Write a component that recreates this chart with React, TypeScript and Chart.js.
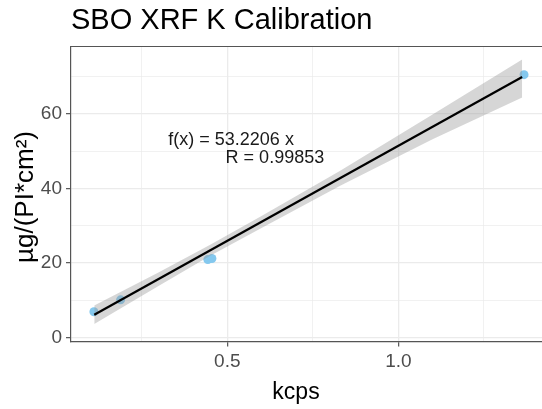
import React, { useEffect, useRef } from "react";
import { Chart, registerables } from "chart.js";

Chart.register(...registerables);

// Measured standards
const kcps = [0.110, 0.188, 0.443, 0.455, 1.3675];
const areal = [6.9, 10.1, 20.9, 21.2, 70.5];

// Fitted line and its confidence band
const fitX = [0.111, 1.362];
const fitY = [6.1, 69.9];
const bandX = [0.111, 0.3, 0.45, 0.6, 0.83, 1.1, 1.362];
const bandUpper = [8.6, 17.5, 24.9, 32.6, 44.7, 59.8, 74.6];
const bandLower = [3.6, 13.9, 21.9, 29.4, 40.7, 53.2, 64.4];

// Axis ticks (major ones carry labels)
const xTicks = [0.25, 0.5, 0.75, 1.0, 1.25];
const xMajor = [0.5, 1.0];
const yTicks = [0, 10, 20, 30, 40, 50, 60, 70];
const yMajor = [0, 20, 40, 60];

// Fit annotation
const annoText = ["f(x) = 53.2206 x", "R = 0.99853"];
const annoX = [0.3275, 0.495];
const annoY = [53.0, 48.1];

const FONT = "'Liberation Sans', Arial, sans-serif";

const textPlugin = {
  id: "texts",
  afterDraw(chart: any) {
    const { ctx, chartArea, scales } = chart;
    ctx.save();
    // top panel border
    ctx.strokeStyle = "#555555";
    ctx.lineWidth = 1.2;
    ctx.beginPath();
    ctx.moveTo(chartArea.left, chartArea.top);
    ctx.lineTo(chartArea.right, chartArea.top);
    ctx.stroke();

    ctx.fillStyle = "#000";
    ctx.textBaseline = "middle";
    ctx.textAlign = "left";
    ctx.font = `29px ${FONT}`;
    ctx.fillText("SBO XRF K Calibration", chartArea.left, 21);

    ctx.textAlign = "center";
    ctx.font = `23px ${FONT}`;
    ctx.fillText("kcps", 296, 393);

    ctx.save();
    ctx.translate(26, 197);
    ctx.rotate(-Math.PI / 2);
    ctx.font = `26px ${FONT}`;
    ctx.fillText("µg/(PI*cm²)", 0, 0);
    ctx.restore();

    ctx.textAlign = "left";
    ctx.fillStyle = "#1a1a1a";
    ctx.font = `18px ${FONT}`;
    annoText.forEach((t, i) => {
      ctx.fillText(t, scales.x.getPixelForValue(annoX[i]), scales.y.getPixelForValue(annoY[i]));
    });
    ctx.restore();
  },
};

export default function App() {
  const ref = useRef<HTMLCanvasElement>(null);

  useEffect(() => {
    if (!ref.current) return;
    const chart = new Chart(ref.current, {
      type: "scatter",
      data: {
        datasets: [
          {
            label: "fit",
            data: fitX.map((x, i) => ({ x, y: fitY[i] })),
            showLine: true,
            borderColor: "#000000",
            borderWidth: 2.2,
            pointRadius: 0,
          },
          {
            label: "upper",
            data: bandX.map((x, i) => ({ x, y: bandUpper[i] })),
            showLine: true,
            borderWidth: 0,
            borderColor: "rgba(0,0,0,0)",
            backgroundColor: "rgba(153,153,153,0.4)",
            pointRadius: 0,
            fill: "+1",
          },
          {
            label: "lower",
            data: bandX.map((x, i) => ({ x, y: bandLower[i] })),
            showLine: true,
            borderWidth: 0,
            borderColor: "rgba(0,0,0,0)",
            pointRadius: 0,
          },
          {
            label: "standards",
            data: kcps.map((x, i) => ({ x, y: areal[i] })),
            backgroundColor: "#84C8EE",
            borderWidth: 0,
            pointRadius: 4.5,
          },
        ],
      },
      options: {
        responsive: false,
        animation: false,
        layout: { autoPadding: false, padding: { top: 46.5, right: 0, left: 0, bottom: 0 } },
        plugins: { legend: { display: false }, tooltip: { enabled: false } },
        scales: {
          x: {
            type: "linear",
            min: 0.043,
            max: 1.42,
            afterBuildTicks: (s: any) => {
              s.ticks = xTicks.map((v) => ({ value: v }));
            },
            afterFit: (s: any) => {
              s.height = 67.5;
              s.paddingLeft = 0;
              s.paddingRight = 0;
            },
            ticks: {
              autoSkip: false,
              maxRotation: 0,
              color: "#4D4D4D",
              font: { family: FONT, size: 19 },
              padding: 4,
              callback: (v: any) => (xMajor.includes(v) ? Number(v).toFixed(1) : ""),
            },
            grid: {
              color: "#EBEBEB",
              lineWidth: (c: any) => (c.tick && xMajor.includes(c.tick.value) ? 1.3 : 0.7),
              tickLength: 5,
              tickColor: (c: any) => (c.tick && xMajor.includes(c.tick.value) ? "#555555" : "rgba(0,0,0,0)"),
              tickWidth: 1.2,
            },
            border: { display: true, color: "#555555", width: 1.2 },
          },
          y: {
            type: "linear",
            min: -1.07,
            max: 78.06,
            afterBuildTicks: (s: any) => {
              s.ticks = yTicks.map((v) => ({ value: v }));
            },
            afterFit: (s: any) => {
              s.width = 71;
              s.paddingTop = 0;
              s.paddingBottom = 0;
            },
            ticks: {
              autoSkip: false,
              color: "#4D4D4D",
              font: { family: FONT, size: 19 },
              padding: 4,
              callback: (v: any) => (yMajor.includes(v) ? String(v) : ""),
            },
            grid: {
              color: "#EBEBEB",
              lineWidth: (c: any) => (c.tick && yMajor.includes(c.tick.value) ? 1.3 : 0.7),
              tickLength: 5,
              tickColor: (c: any) => (c.tick && yMajor.includes(c.tick.value) ? "#555555" : "rgba(0,0,0,0)"),
              tickWidth: 1.2,
            },
            border: { display: true, color: "#555555", width: 1.2 },
          },
        },
      },
      plugins: [textPlugin],
    });
    return () => chart.destroy();
  }, []);

  return (
    <div style={{ position: "fixed", left: 0, top: 0, width: 542, height: 409, background: "#fff" }}>
      <canvas ref={ref} width={542} height={409} />
    </div>
  );
}
